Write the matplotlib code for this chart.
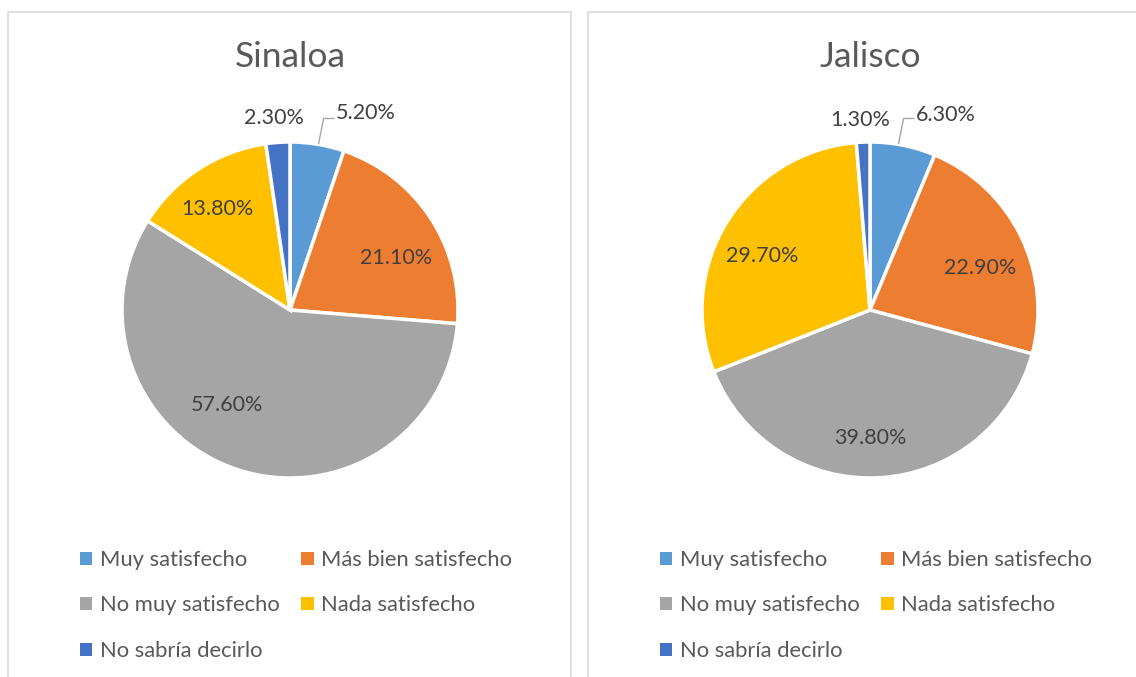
import matplotlib.pyplot as plt
from matplotlib.patches import Rectangle

plt.rcParams['font.family'] = ['Lato', 'DejaVu Sans']

categories = ['Muy satisfecho', 'Más bien satisfecho', 'No muy satisfecho',
              'Nada satisfecho', 'No sabría decirlo']
sinaloa = [5.2, 21.1, 57.6, 13.8, 2.3]
jalisco = [6.3, 22.9, 39.8, 29.7, 1.3]
colors = ['#5B9BD5', '#ED7D31', '#A5A5A5', '#FFC000', '#4472C4']

# label spots, in units of the pie radius, measured from the pie centre
sinaloa_lbl = [(0.45, 1.17), (0.63, 0.31), (-0.375, -0.565), (-0.43, 0.60), (-0.095, 1.14)]
jalisco_lbl = [(0.45, 1.16), (0.655, 0.25), (0.0, -0.76), (-0.64, 0.32), (-0.06, 1.13)]

W, H = 1136, 677
fig = plt.figure(figsize=(W / 100, H / 100), dpi=100)
ax = fig.add_axes([0, 0, 1, 1])

R = 168
panels = [
    ('Sinaloa', sinaloa, sinaloa_lbl, 290, 8, 563),
    ('Jalisco', jalisco, jalisco_lbl, 870, 588, 600),
]

for title, vals, lbl, cx, px, pw in panels:
    cy = H - 310
    ax.add_patch(Rectangle((px, -10), pw, H - 12 + 10, fill=False,
                           edgecolor='#d9d9d9', lw=1.2))
    wedges, _ = ax.pie(vals, colors=colors, startangle=90, counterclock=False,
                       center=(cx, cy), radius=R,
                       wedgeprops=dict(edgecolor='white', linewidth=2.5))
    ax.text(cx, H - 57, title, ha='center', va='center', fontsize=25.5,
            color='#595959')
    for v, (dx, dy) in zip(vals, lbl):
        ax.text(cx + dx * R, cy + dy * R, f'{v:.2f}%', ha='center', va='center',
                fontsize=15.5, color='#404040')
    # leader line for the first (small) slice
    x0, y0 = cx + 0.17 * R, cy + 0.99 * R
    x1, y1 = cx + 0.20 * R, cy + 1.14 * R
    x2 = cx + 0.26 * R
    ax.plot([x0, x1, x2], [y0, y1, y1], color='#a6a6a6', lw=1)

    order = [0, 2, 4, 1, 3]
    leg = ax.legend([wedges[i] for i in order], [categories[i] for i in order],
                    ncol=2, loc='upper left', frameon=False,
                    bbox_to_anchor=((cx - 210) / W, (H - 550) / H),
                    fontsize=15.8, handlelength=0.55, handleheight=0.55,
                    handletextpad=0.35, columnspacing=1.0, labelspacing=1.16,
                    labelcolor='#595959', borderpad=0, borderaxespad=0)
    for h in leg.legend_handles:
        h.set_edgecolor('none')
    ax.add_artist(leg)
    ax.legend_ = None

ax.set_xlim(0, W)
ax.set_ylim(0, H)
ax.set_aspect('equal')
ax.axis('off')

fig.savefig('out.png', dpi=100)
